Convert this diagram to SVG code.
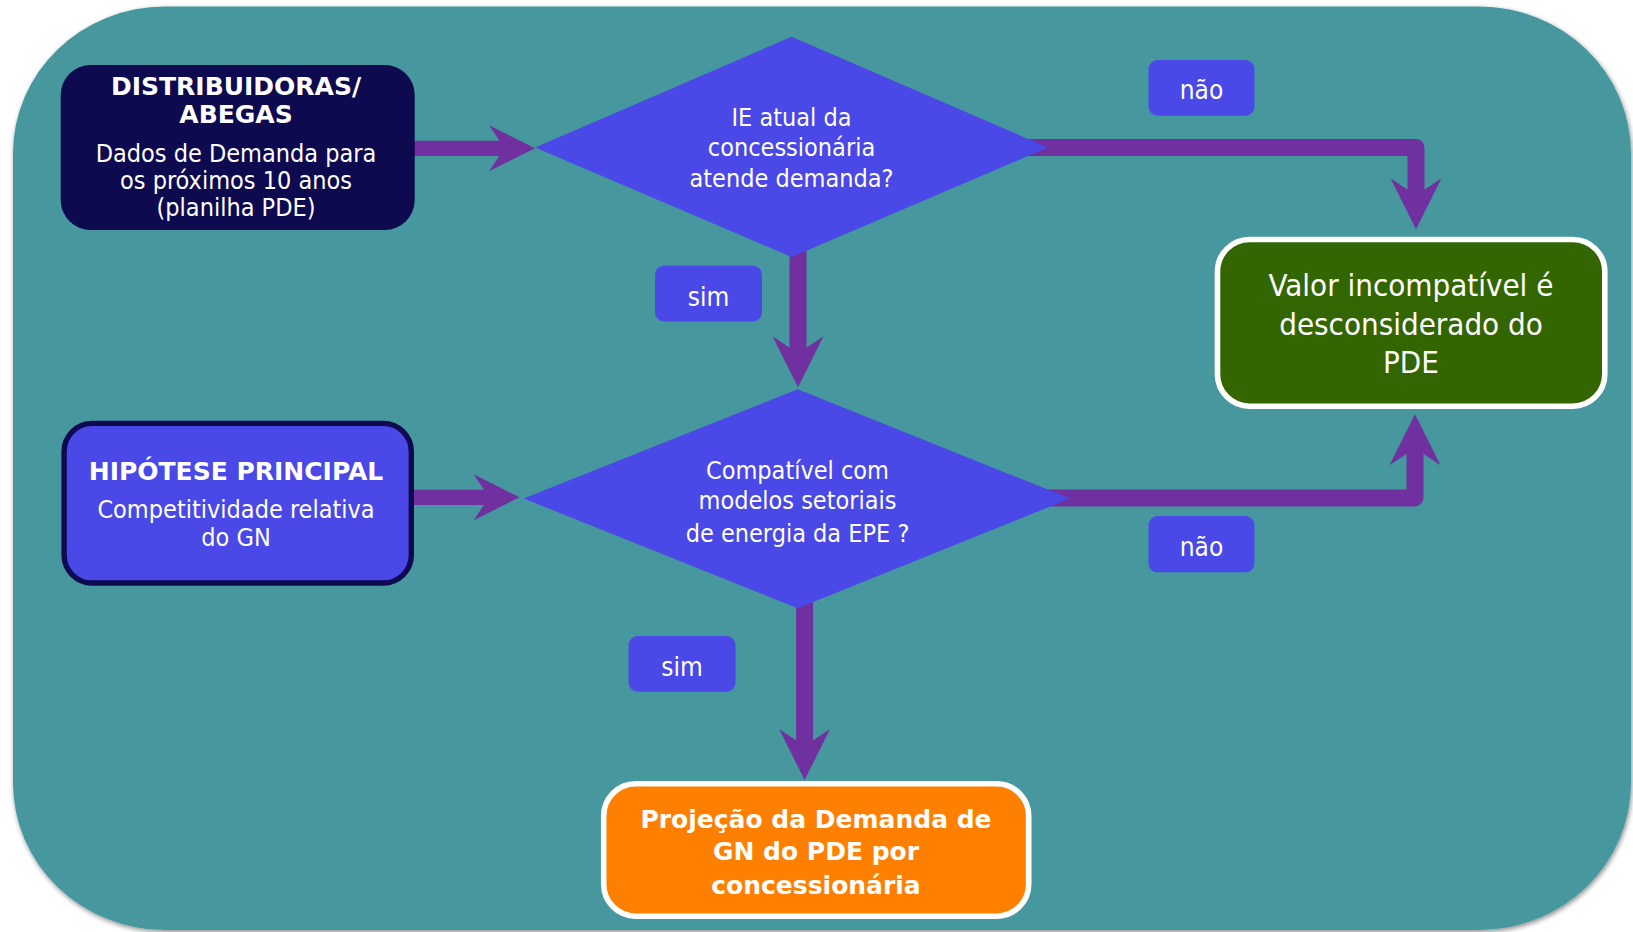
<svg xmlns="http://www.w3.org/2000/svg" width="1633" height="932" viewBox="0 0 1633 932">
  <defs>
    <style>
      .txt { font-family: 'DejaVu Sans Condensed', 'DejaVu Sans', sans-serif; font-stretch: condensed; font-size: 25px; fill: #ffffff; text-anchor: middle; }
      .bold { font-family: 'DejaVu Sans', sans-serif; font-stretch: normal; font-weight: bold; }
      .lbl { font-size: 26px; }
      .big { font-size: 31px; }
      .conn { fill: none; stroke: #7030A0; stroke-linejoin: round; }
      .w15 { stroke-width: 15.3; marker-end: url(#head); }
      .w17 { stroke-width: 17; marker-end: url(#head); }
      .tag { fill: #4A48E6; }
      .diamond { fill: #4A48E6; }
    </style>
    <!-- stealth-style arrowhead, sized in stroke-width units; path ends at the notch -->
    <marker id="head" viewBox="0 -1.5 3 3" markerUnits="strokeWidth" markerWidth="3" markerHeight="3" refX="1" refY="0" orient="auto" overflow="visible">
      <path d="M3 0 L0 -1.5 L1 0 L0 1.5 Z" fill="#7030A0"/>
    </marker>
    <filter id="panelShadow" x="-5%" y="-5%" width="110%" height="110%">
      <feDropShadow dx="1" dy="2" stdDeviation="2.5" flood-color="#000000" flood-opacity="0.45"/>
    </filter>
  </defs>

  <rect width="1633" height="932" fill="#ffffff"/>

  <!-- panel -->
  <rect id="panel" x="13" y="6.5" width="1618" height="923.5" rx="152" ry="147" fill="#46979F" filter="url(#panelShadow)"/>

  <!-- connectors -->
  <g id="connectors">
    <path class="conn w15" d="M414 148.3 H504.4"/>
    <path class="conn w15" d="M414 497.3 H489"/>
    <path class="conn w17" d="M798 250 V353.3"/>
    <path class="conn w17" d="M804.6 600 V746"/>
    <path class="conn w17" d="M1000 147.5 H1416 V195.3"/>
    <path class="conn w17" d="M1030 498 H1415 V448.3"/>
  </g>

  <!-- source: distributors -->
  <g id="distribuidoras">
    <rect x="60.7" y="65" width="354" height="165" rx="30" fill="#0E0A4F"/>
    <text class="txt bold" x="236" y="95">DISTRIBUIDORAS/</text>
    <text class="txt bold" x="236" y="122.7">ABEGAS</text>
    <text class="txt" x="236" y="161.7">Dados de Demanda para</text>
    <text class="txt" x="236" y="189.3">os próximos 10 anos</text>
    <text class="txt" x="236" y="215.5">(planilha PDE)</text>
  </g>

  <!-- source: main hypothesis -->
  <g id="hipotese">
    <rect x="64.1" y="423.4" width="347.2" height="159.6" rx="28" fill="#4A48E6" stroke="#0E0A4F" stroke-width="5.4"/>
    <text class="txt bold" x="236" y="480">HIPÓTESE PRINCIPAL</text>
    <text class="txt" x="236" y="517.7">Competitividade relativa</text>
    <text class="txt" x="236" y="545.7">do GN</text>
  </g>

  <!-- decision 1 -->
  <g id="decisao-ie">
    <polygon class="diamond" points="791.6,36.7 1048,147.5 791.6,257 535.2,147.5"/>
    <text class="txt" x="791.5" y="126">IE atual da</text>
    <text class="txt" x="791.5" y="156">concessionária</text>
    <text class="txt" x="791.5" y="186.5">atende demanda?</text>
  </g>

  <!-- decision 2 -->
  <g id="decisao-epe">
    <polygon class="diamond" points="797.7,389.3 1070,498.5 797.7,608.3 523.7,498.5"/>
    <text class="txt" x="797.5" y="479.3">Compatível com</text>
    <text class="txt" x="797.5" y="509.3">modelos setoriais</text>
    <text class="txt" x="797.5" y="541.7">de energia da EPE ?</text>
  </g>

  <!-- rejected value -->
  <g id="desconsiderado">
    <rect x="1217.5" y="239.5" width="387.3" height="166.7" rx="32" fill="#336600" stroke="#ffffff" stroke-width="5.6"/>
    <text class="txt big" x="1411" y="296">Valor incompatível é</text>
    <text class="txt big" x="1411" y="335">desconsiderado do</text>
    <text class="txt big" x="1411" y="373.3">PDE</text>
  </g>

  <!-- result -->
  <g id="projecao">
    <rect x="603.7" y="783.8" width="425" height="132.4" rx="32" fill="#FF8000" stroke="#ffffff" stroke-width="5.6"/>
    <text class="txt bold" x="816" y="827.7">Projeção da Demanda de</text>
    <text class="txt bold" x="816" y="860">GN do PDE por</text>
    <text class="txt bold" x="816" y="894">concessionária</text>
  </g>

  <!-- branch labels -->
  <g id="label-nao-1">
    <rect class="tag" x="1148.5" y="60" width="106" height="55.7" rx="9"/>
    <text class="txt lbl" x="1201.5" y="99">não</text>
  </g>
  <g id="label-nao-2">
    <rect class="tag" x="1148.5" y="516" width="106" height="56.3" rx="9"/>
    <text class="txt lbl" x="1201.5" y="556">não</text>
  </g>
  <g id="label-sim-1">
    <rect class="tag" x="655" y="265.7" width="107" height="55.7" rx="9"/>
    <text class="txt lbl" x="708.5" y="305.7">sim</text>
  </g>
  <g id="label-sim-2">
    <rect class="tag" x="628.5" y="636" width="107" height="55.7" rx="9"/>
    <text class="txt lbl" x="682" y="676">sim</text>
  </g>
</svg>
